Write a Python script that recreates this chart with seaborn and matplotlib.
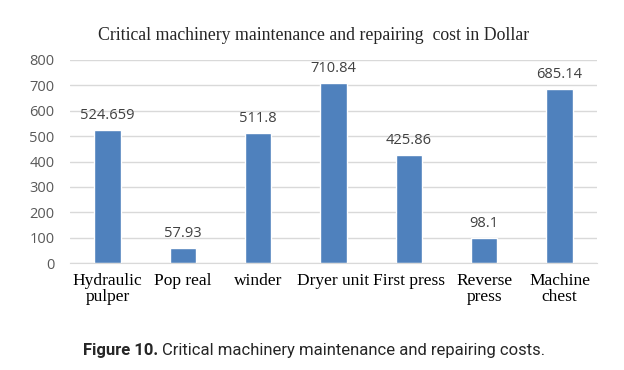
import matplotlib
matplotlib.use("Agg")
import matplotlib.pyplot as plt
import pandas as pd
import seaborn as sns

# data
machines = ["Hydraulic\npulper", "Pop real", "winder", "Dryer unit", "First press",
            "Reverse\npress", "Machine\nchest"]
costs = [524.659, 57.93, 511.8, 710.84, 425.86, 98.1, 685.14]
cost_labels = ["524.659", "57.93", "511.8", "710.84", "425.86", "98.1", "685.14"]
y_ticks = [0, 100, 200, 300, 400, 500, 600, 700, 800]

df = pd.DataFrame({"machine": machines, "cost": costs})

sns.set_style("white")
plt.rcParams['font.family'] = ['Open Sans', 'DejaVu Sans']

fig = plt.figure(figsize=(6.24, 3.70), dpi=100)
ax = fig.add_axes([0.112, 0.289, 0.845, 0.549])

sns.barplot(data=df, x="machine", y="cost", color="#4F81BD", saturation=1,
            width=0.35, ax=ax)

ax.set_ylim(0, 800)
ax.set_yticks(y_ticks)
ax.set_yticklabels([str(t) for t in y_ticks], color="#595959", fontsize=10.5)
ax.set_xticks(range(len(machines)))
ax.set_xticklabels(machines, family="Liberation Serif", fontsize=12.5, color="black",
                   linespacing=1.05)
ax.tick_params(axis="both", length=0)
ax.tick_params(axis="x", pad=7)
ax.tick_params(axis="y", pad=11)
ax.set_xlabel("")
ax.set_ylabel("")
ax.grid(axis="y", color="#D9D9D9", linewidth=1)
ax.set_axisbelow(True)
for s in ["top", "right", "left"]:
    ax.spines[s].set_visible(False)
ax.spines["bottom"].set_color("#D9D9D9")

ax.bar_label(ax.containers[0], labels=cost_labels, padding=5, fontsize=10.5, color="#404040")

fig.text(0.503, 0.903, "Critical machinery maintenance and repairing  cost in Dollar",
         ha="center", va="center", family="Liberation Serif", fontsize=12.8)

# caption: bold label followed by regular text
cap_font = ['Roboto', 'DejaVu Sans']
t1 = fig.text(0.133, 0.052, "Figure 10.", ha="left", va="center", fontsize=12,
              weight="bold", family=cap_font)
fig.canvas.draw()
bb = t1.get_window_extent()
x2 = (bb.x1 + 4) / fig.bbox.width
fig.text(x2, 0.052, "Critical machinery maintenance and repairing costs.",
         ha="left", va="center", fontsize=12, family=cap_font)

fig.savefig("out.png", dpi=100)
